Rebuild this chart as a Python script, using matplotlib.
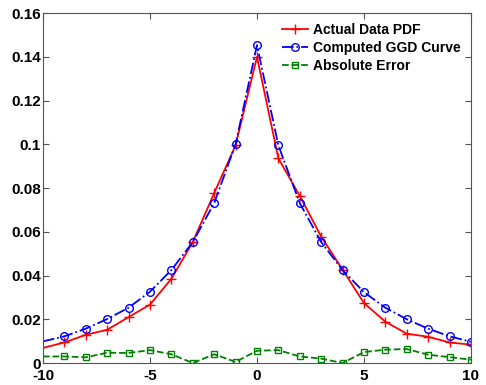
import matplotlib.pyplot as plt
import numpy as np

x = np.arange(-10, 11)
actual_pdf = [0.0069, 0.0094, 0.0129, 0.0152, 0.0210, 0.0267, 0.0385, 0.0553, 0.0777, 0.0995, 0.1400,
              0.0936, 0.0764, 0.0578, 0.0427, 0.0274, 0.0189, 0.0134, 0.0120, 0.0094, 0.0084]
ggd_curve = [0.0099, 0.0122, 0.0157, 0.0201, 0.0253, 0.0326, 0.0425, 0.0553, 0.0731, 0.1000, 0.1453,
             0.0995, 0.0731, 0.0553, 0.0425, 0.0324, 0.0253, 0.0200, 0.0157, 0.0122, 0.0097]
abs_error = [0.0030, 0.0030, 0.0026, 0.0047, 0.0046, 0.0059, 0.0040, 0.0000, 0.0040, 0.0005, 0.0056,
             0.0059, 0.0030, 0.0020, 0.0000, 0.0050, 0.0061, 0.0064, 0.0038, 0.0027, 0.0015]

plt.rcParams['font.family'] = ['Liberation Sans', 'DejaVu Sans']
plt.rcParams['font.weight'] = 'bold'
plt.rcParams['font.size'] = 11
plt.rcParams['axes.unicode_minus'] = False

fig = plt.figure(figsize=(4.86, 3.85), dpi=100)
ax = fig.add_axes([0.0885, 0.0571, 0.8805, 0.909])

marks = slice(1, None)
ax.plot(x, actual_pdf, color='#ff0000', linestyle='-', marker='+', markersize=7,
        markevery=marks, linewidth=1.3, label='Actual Data PDF')
ax.plot(x, ggd_curve, color='#0000ff', linestyle='-.', marker='o', markersize=5.5,
        markerfacecolor='none', markevery=marks, linewidth=1.3, label='Computed GGD Curve')
ax.plot(x, abs_error, color='#008000', linestyle='--', marker='s', markersize=4.5,
        markerfacecolor='none', markevery=marks, linewidth=1.3, label='Absolute Error')

ax.set_xlim(-10, 10)
ax.set_ylim(0, 0.16)
ax.set_xticks([-10, -5, 0, 5, 10])
ax.set_yticks([0, 0.02, 0.04, 0.06, 0.08, 0.1, 0.12, 0.14, 0.16])
ax.set_yticklabels(['0', '0.02', '0.04', '0.06', '0.08', '0.1', '0.12', '0.14', '0.16'])
ax.tick_params(direction='in', top=True, right=True, length=4, color='#555555')
ax.tick_params(axis='y', pad=1.5)
ax.tick_params(axis='x', pad=4.5)
for s in ax.spines.values():
    s.set_color('#555555')

ax.legend(loc='upper right', frameon=False, handlelength=1.9, handletextpad=0.4,
          labelspacing=0.3, borderaxespad=0.3, bbox_to_anchor=(1.0, 1.0), fontsize=10)

fig.savefig('out.png', dpi=100)
